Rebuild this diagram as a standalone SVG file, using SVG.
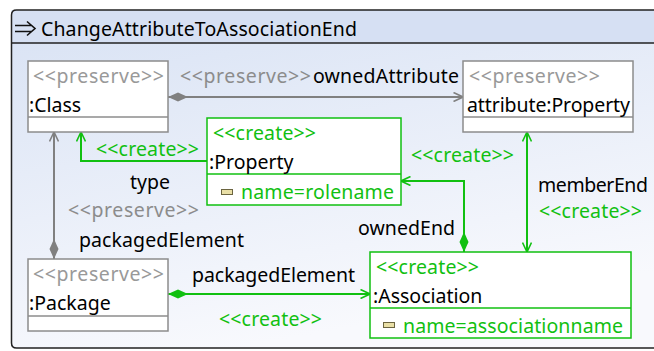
<svg xmlns="http://www.w3.org/2000/svg" width="654" height="351" viewBox="0 0 654 351">
<defs>
<linearGradient id="bg" x1="0" y1="0" x2="0.35" y2="1">
<stop offset="0" stop-color="#d8e2f4"/>
<stop offset="1" stop-color="#f8f9fd"/>
</linearGradient>
<marker id="arrG" viewBox="0 0 10 10" refX="10" refY="5" markerWidth="10" markerHeight="10" markerUnits="userSpaceOnUse" orient="auto-start-reverse">
<path d="M0.5,0.5 L10,5 L0.5,9.5" fill="none" stroke="#808080" stroke-width="1.6"/>
</marker>
<marker id="arrN" viewBox="0 0 10 10" refX="10" refY="5" markerWidth="10" markerHeight="10" markerUnits="userSpaceOnUse" orient="auto-start-reverse">
<path d="M0.5,0.5 L10,5 L0.5,9.5" fill="none" stroke="#11c011" stroke-width="1.6"/>
</marker>
<marker id="diaG" viewBox="0 0 20 10" refX="0" refY="5" markerWidth="20" markerHeight="10" markerUnits="userSpaceOnUse" orient="auto">
<path d="M0,5 L10,0.5 L20,5 L10,9.5 Z" fill="#808080"/>
</marker>
<marker id="diaN" viewBox="0 0 20 10" refX="0" refY="5" markerWidth="20" markerHeight="10" markerUnits="userSpaceOnUse" orient="auto">
<path d="M0,5 L10,0.5 L20,5 L10,9.5 Z" fill="#11c011"/>
</marker>
</defs>
<style>
text{font-family:"Noto Sans","Open Sans","Liberation Sans",sans-serif;font-size:19.5px;}
.blk{fill:#000000;}
.gry{fill:#999999;}
.gryl{fill:#8c8c8c;}
.grn{fill:#11c011;}
.pbox{fill:#ffffff;stroke:#8c8c8c;stroke-width:1.5;}
.cbox{fill:#ffffff;stroke:#11c011;stroke-width:1.5;}
.pdiv{stroke:#8c8c8c;stroke-width:1.5;}
.cdiv{stroke:#11c011;stroke-width:1.5;}
.cg{fill:none;stroke:#808080;stroke-width:2;}
.cn{fill:none;stroke:#11c011;stroke-width:2;}
.icon{fill:#e9dfa6;stroke:#6b6440;stroke-width:1;}
</style>
<g id="frame">
<path d="M11.5,348 L11.5,15 Q11.5,10 16.5,10 L660,10 L660,348 Z" fill="url(#bg)"/>
<path d="M11.5,10 L660,10 L660,43 L11.5,43 Z" fill="#d6e0f3"/>
<path d="M660,10 L16.5,10 Q11.5,10 11.5,15 L11.5,343 Q11.5,348 16.5,348 L660,348" fill="none" stroke="#222222" stroke-width="1.5"/>
<line x1="11.5" y1="43" x2="660" y2="43" stroke="#222222" stroke-width="1.5"/>
<path d="M15,25.5 L32,25.5 M15,31.5 L32,31.5 M27,21.5 L35,28.5 L27,35.5" fill="none" stroke="#111111" stroke-width="1.6"/>
<text class="blk" x="41" y="36" textLength="316" lengthAdjust="spacing">ChangeAttributeToAssociationEnd</text>
</g>
<g id="connectors">
<path class="cg" d="M168,97 L463,97" marker-start="url(#diaG)" marker-end="url(#arrG)"/>
<path class="cg" d="M54,259 L54,132" marker-start="url(#diaG)" marker-end="url(#arrG)"/>
<path class="cn" d="M207,161 L81,161 L81,132" marker-end="url(#arrN)"/>
<path class="cn" d="M168,294 L370,294" marker-start="url(#diaN)" marker-end="url(#arrN)"/>
<path class="cn" d="M464,252 L464,181 L401,181" marker-start="url(#diaN)" marker-end="url(#arrN)"/>
<path class="cn" d="M527,252 L527,132" marker-start="url(#arrN)" marker-end="url(#arrN)"/>
<text class="gryl" x="180" y="83" textLength="131" lengthAdjust="spacing">&lt;&lt;preserve&gt;&gt;</text>
<text class="blk" x="313" y="83" textLength="146" lengthAdjust="spacing">ownedAttribute</text>
<text class="grn" x="96" y="156" textLength="103" lengthAdjust="spacing">&lt;&lt;create&gt;&gt;</text>
<text class="blk" x="130" y="189">type</text>
<text class="gryl" x="68" y="217" textLength="131" lengthAdjust="spacing">&lt;&lt;preserve&gt;&gt;</text>
<text class="blk" x="79" y="247" textLength="165" lengthAdjust="spacing">packagedElement</text>
<text class="blk" x="192" y="282" textLength="163" lengthAdjust="spacing">packagedElement</text>
<text class="grn" x="219" y="326" textLength="103" lengthAdjust="spacing">&lt;&lt;create&gt;&gt;</text>
<text class="blk" x="358" y="235" textLength="97" lengthAdjust="spacing">ownedEnd</text>
<text class="grn" x="411" y="162" textLength="103" lengthAdjust="spacing">&lt;&lt;create&gt;&gt;</text>
<text class="blk" x="538" y="192" textLength="110" lengthAdjust="spacing">memberEnd</text>
<text class="grn" x="539" y="218" textLength="103" lengthAdjust="spacing">&lt;&lt;create&gt;&gt;</text>
</g>
<g id="node-class">
<rect class="pbox" x="28" y="61" width="140" height="71"/>
<line class="pdiv" x1="28" y1="117" x2="168" y2="117"/>
<text class="gry" x="33" y="83" textLength="131" lengthAdjust="spacing">&lt;&lt;preserve&gt;&gt;</text>
<text class="blk" x="29" y="112">:Class</text>
</g>
<g id="node-attribute-property">
<rect class="pbox" x="463" y="61" width="170" height="71"/>
<line class="pdiv" x1="463" y1="117" x2="633" y2="117"/>
<text class="gry" x="469" y="83" textLength="131" lengthAdjust="spacing">&lt;&lt;preserve&gt;&gt;</text>
<text class="blk" x="467" y="112" textLength="163" lengthAdjust="spacing">attribute:Property</text>
</g>
<g id="node-property">
<rect class="cbox" x="207" y="118" width="194" height="87"/>
<line class="cdiv" x1="207" y1="174" x2="401" y2="174"/>
<text class="grn" x="213" y="140" textLength="103" lengthAdjust="spacing">&lt;&lt;create&gt;&gt;</text>
<text class="blk" x="209" y="169">:Property</text>
<rect class="icon" x="221.5" y="189.5" width="11" height="5"/>
<text class="grn" x="241" y="199" textLength="153" lengthAdjust="spacing">name=rolename</text>
</g>
<g id="node-package">
<rect class="pbox" x="28" y="259" width="140" height="72"/>
<line class="pdiv" x1="28" y1="316" x2="168" y2="316"/>
<text class="gry" x="33" y="281" textLength="131" lengthAdjust="spacing">&lt;&lt;preserve&gt;&gt;</text>
<text class="blk" x="29" y="310">:Package</text>
</g>
<g id="node-association">
<rect class="cbox" x="370" y="252" width="261" height="86"/>
<line class="cdiv" x1="370" y1="308" x2="631" y2="308"/>
<text class="grn" x="376" y="274" textLength="103" lengthAdjust="spacing">&lt;&lt;create&gt;&gt;</text>
<text class="blk" x="373" y="303">:Association</text>
<rect class="icon" x="383.5" y="322.5" width="11" height="5"/>
<text class="grn" x="403" y="333" textLength="220" lengthAdjust="spacing">name=associationname</text>
</g>
</svg>
